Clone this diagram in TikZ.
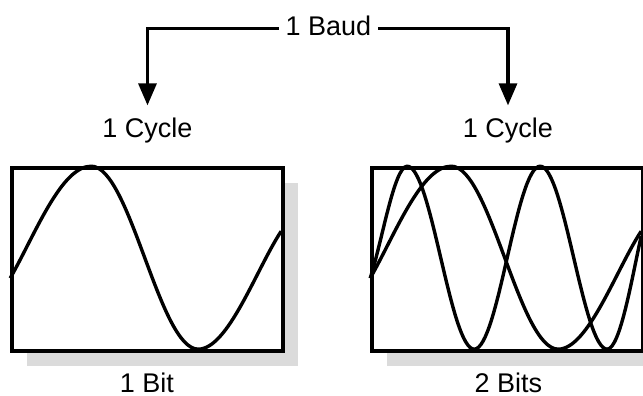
\documentclass[tikz,border=0pt]{standalone}
\usepackage{fontspec}
\setmainfont{Liberation Sans}
\usepackage{tikz}
\usetikzlibrary{arrows.meta,positioning,shadows}

\begin{document}
\begin{tikzpicture}[x=0.5pt, y=-0.5pt,
  caption/.style={anchor=base, font=\fontsize{13.5}{16}\selectfont},
  wavebox/.style={rectangle, draw=black, fill=white, line width=1.8pt, minimum width=135.5pt, minimum height=91.5pt, inner sep=0pt,
    drop shadow={shadow xshift=7.25pt, shadow yshift=-7.25pt, fill=black!14, opacity=1}},
  wave/.style={line width=1.7pt, line join=round},
  link/.style={draw, line width=1.6pt, -{Triangle[length=11pt,width=9pt]}, shorten >=2.5pt}]

  \useasboundingbox (0,0) rectangle (643,396);

  \node [wavebox] (boxL) at (147.5,259.5) {};
  \node [wavebox] (boxR) at (507.5,259.5) {};

  \node [caption] (baud) at (328.5,35) {1 Baud};
  \node [caption] (cycleL) at (147.5,137) {1 Cycle};
  \node [caption] (cycleR) at (508,137) {1 Cycle};
  \node [caption] (bitL) at (147,392) {1 Bit};
  \node [caption] (bitR) at (508.5,392) {2 Bits};

  \path [link] ([yshift=-1.5pt]baud.west) -| (cycleL.north);
  \path [link] ([yshift=-1.5pt]baud.east) -| (cycleR.north);

  % one cycle, one bit
  \begin{scope}[shift={(boxL.north west)}]
    \draw [wave] (0,112) .. controls (25,68) and (51,0) .. (81,0)
      .. controls (120,0) and (149,183) .. (188,183)
      .. controls (218,183) and (246,103) .. (271,65);
  \end{scope}

  % one cycle, two bits
  \begin{scope}[shift={(boxR.north west)}]
    \draw [wave] (0,112) .. controls (25,68) and (51,0) .. (81,0)
      .. controls (120,0) and (149,183) .. (188,183)
      .. controls (218,183) and (246,103) .. (271,65);
    \draw [wave] (0,112) .. controls (12,75) and (24,0) .. (37,0)
      .. controls (61,0) and (80,183) .. (104,183)
      .. controls (128,183) and (146,0) .. (170,0)
      .. controls (194,0) and (213,183) .. (237,183)
      .. controls (250,183) and (262,110) .. (271,70);
  \end{scope}
\end{tikzpicture}
\end{document}
